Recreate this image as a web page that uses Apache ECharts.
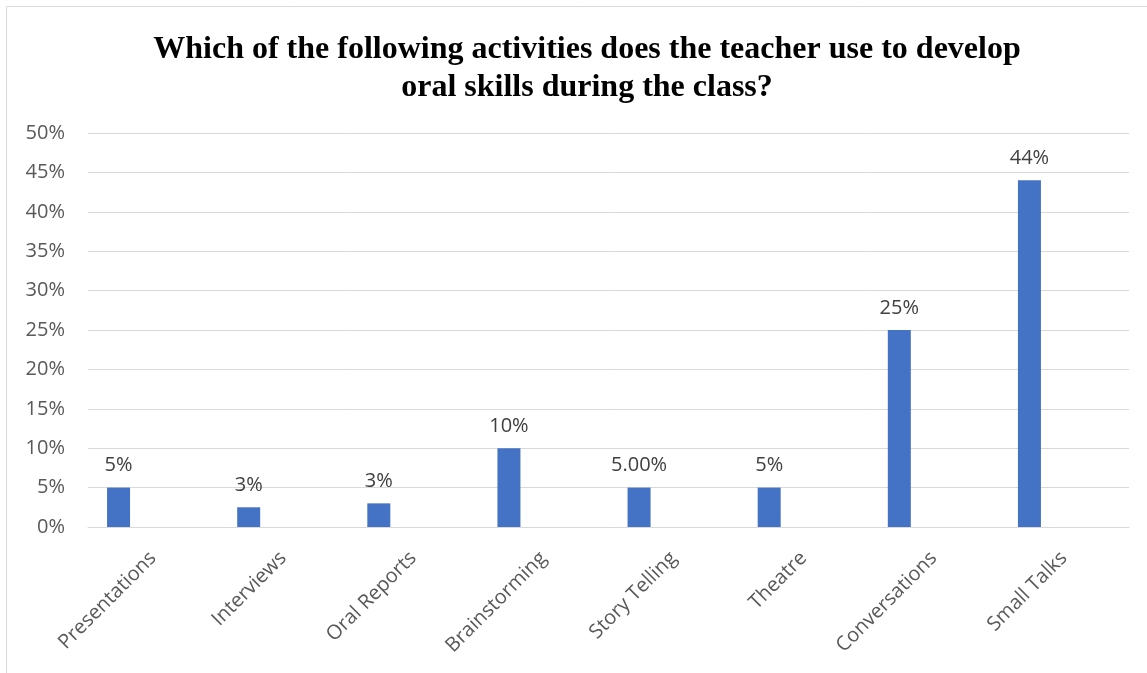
<!DOCTYPE html>
<html>
<head>
<meta charset="utf-8">
<script src="https://cdn.jsdelivr.net/npm/echarts@6/dist/echarts.min.js"></script>
<style>
html,body{margin:0;padding:0;background:#fff;}
#chart{width:1147px;height:673px;}
</style>
</head>
<body>
<div id="chart"></div>
<script>
var categories = ['Presentations','Interviews','Oral Reports','Brainstorming','Story Telling','Theatre','Conversations','Small Talks'];
var values = [5, 2.5, 3, 10, 5, 5, 25, 44];
var valueLabels = ['5%','3%','3%','10%','5.00%','5%','25%','44%'];
var yTicks = [0,5,10,15,20,25,30,35,40,45,50];
var emptySeries = [null,null,null,null,null,null,null,null];

var chart = echarts.init(document.getElementById('chart'), null, {renderer:'canvas'});
var tickFont = 'Open Sans';
var option = {
  animation:false,
  title:{
    text:'Which of the following activities does the teacher use to develop\noral skills during the class?',
    left:582, top:26, textAlign:'center',
    textStyle:{fontFamily:'Liberation Serif', fontWeight:'bold', fontSize:32, color:'#000', lineHeight:38}
  },
  graphic:[{type:'rect', shape:{x:6.5,y:6.5,width:1200,height:700}, style:{fill:'none', stroke:'#d9d9d9', lineWidth:1}, silent:true}],
  grid:{left:88, right:18, top:133, bottom:146, containLabel:false},
  xAxis:{
    type:'category', data:categories,
    axisLine:{lineStyle:{color:'#d9d9d9', width:1}},
    axisTick:{show:false},
    axisLabel:{rotate:45, interval:0, fontFamily:tickFont, fontSize:20, color:'#595959', margin:28}
  },
  yAxis:{
    type:'value', min:yTicks[0], max:yTicks[yTicks.length-1], interval:5,
    axisLine:{show:false}, axisTick:{show:false},
    splitLine:{lineStyle:{color:'#d9d9d9', width:1}},
    axisLabel:{fontFamily:tickFont, fontSize:20, color:'#595959', margin:23, formatter:function(v){return v+'%';}}
  },
  series:[
    {type:'bar', data:values, barWidth:23, barGap:'0%', itemStyle:{color:'#4472c4'},
     label:{show:true, position:'top', distance:12, fontFamily:tickFont, fontSize:20, color:'#404040',
       formatter:function(p){return valueLabels[p.dataIndex];}}},
    {type:'bar', data:emptySeries, barWidth:23, barGap:'0%'},
    {type:'bar', data:emptySeries, barWidth:23, barGap:'0%'},
    {type:'bar', data:emptySeries, barWidth:23, barGap:'0%'}
  ]
};
chart.setOption(option);
</script>
</body>
</html>
